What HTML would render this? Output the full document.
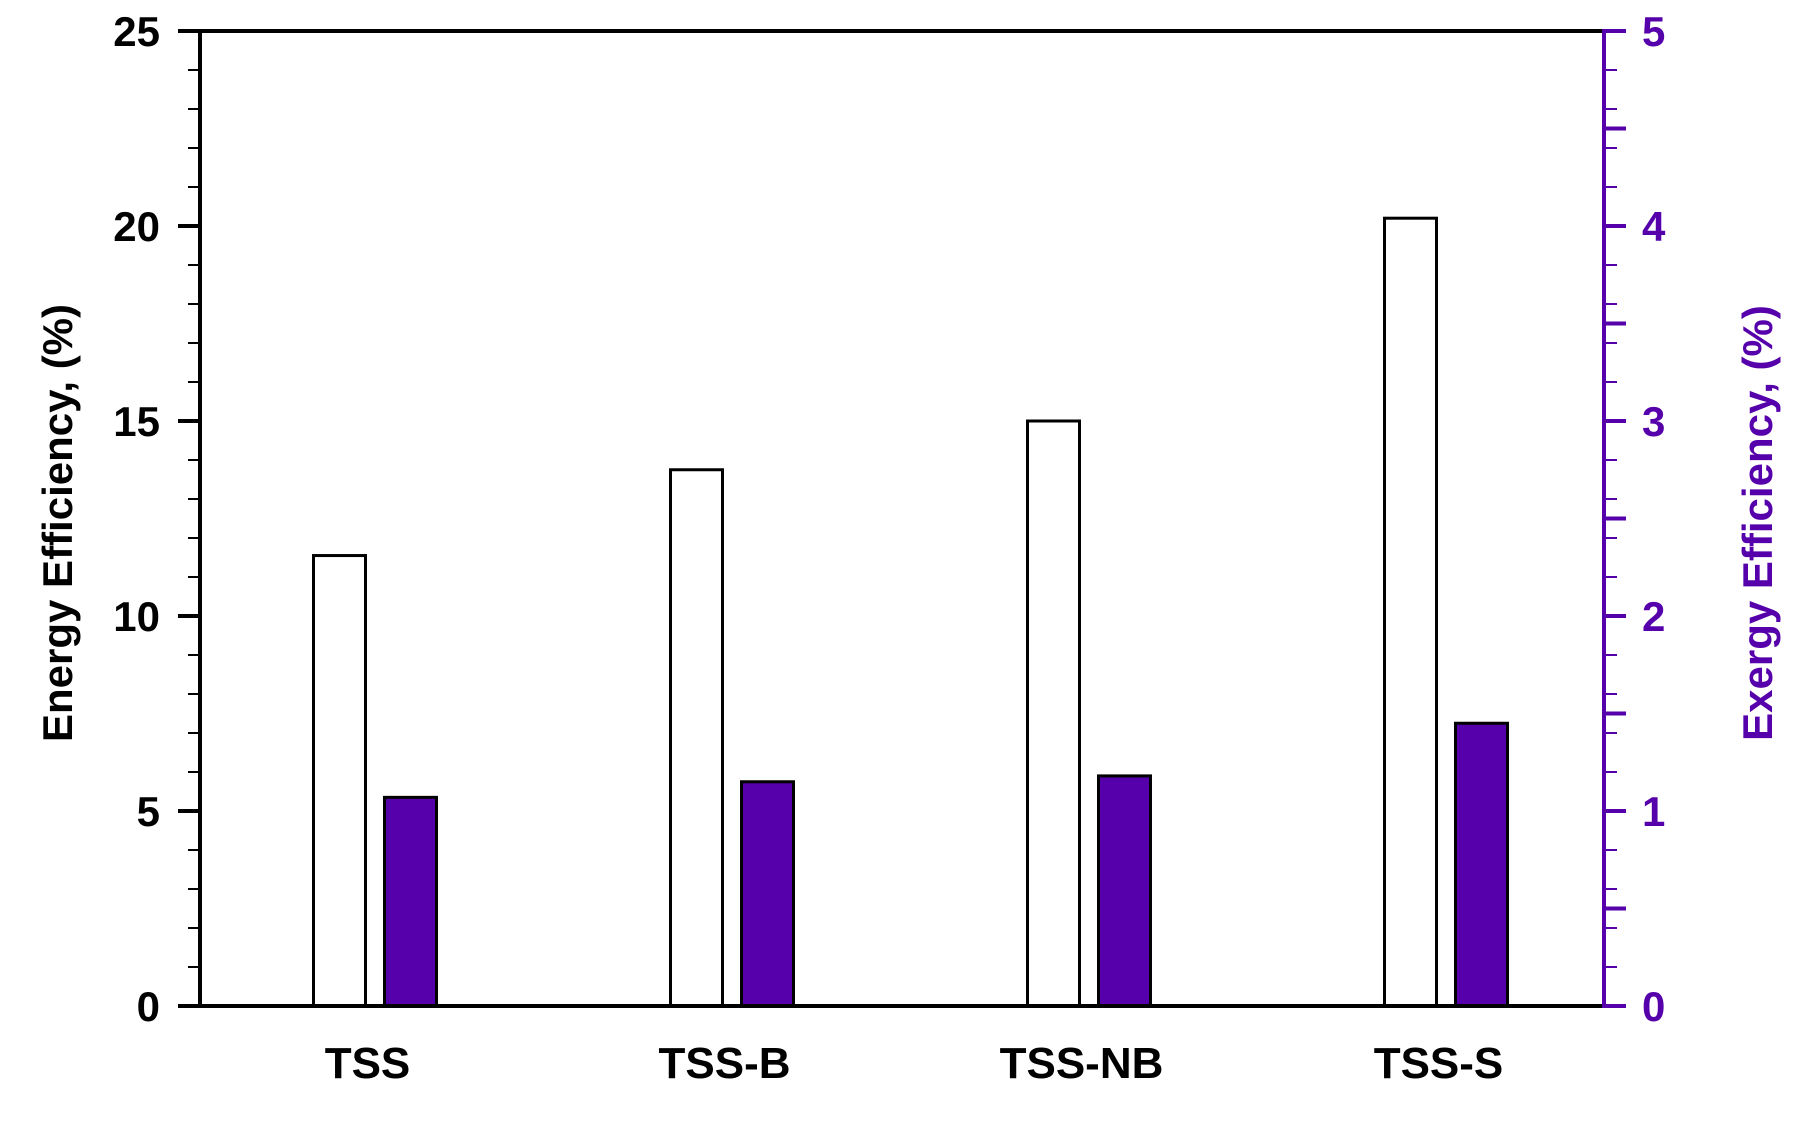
<!DOCTYPE html>
<html><head><meta charset="utf-8"><style>
body{margin:0;background:#fff}
svg text{font-family:"Liberation Sans",Arial,sans-serif;font-weight:bold}
</style></head><body>
<svg id="chart" width="1803" height="1118" viewBox="0 0 1803 1118" xmlns="http://www.w3.org/2000/svg"></svg>
<script>
const categories = ["TSS","TSS-B","TSS-NB","TSS-S"];
const energyValues = [11.55, 13.75, 15.0, 20.2];
const exergyValues = [1.07, 1.15, 1.18, 1.45];
const leftTicks = [0,5,10,15,20,25];
const rightTicks = [0,1,2,3,4,5];

const NS="http://www.w3.org/2000/svg";
const svg=document.getElementById('chart');
const L=200,R=1604,T=31,B=1006;
const PURPLE="#5500aa";
function yL(v){return B-(B-T)*v/25;}
function yR(v){return B-(B-T)*v/5;}
function xc(i){return 374.5+357*i;}
function mk(tag,attrs,name,text){const e=document.createElementNS(NS,tag);for(const k in attrs)e.setAttribute(k,attrs[k]);


if(text!==undefined)e.textContent=text;svg.appendChild(e);return e;}

// bars
categories.forEach((c,i)=>{
  const x=xc(i);
  const ye=yL(energyValues[i]);
  mk('rect',{x:x-61,y:ye,width:52,height:B-ye,fill:'#fff',stroke:'#000','stroke-width':3},'energy-bar-'+c.toLowerCase());
  const yx=yR(exergyValues[i]);
  mk('rect',{x:x+10,y:yx,width:52,height:B-yx,fill:PURPLE,stroke:'#000','stroke-width':3},'exergy-bar-'+c.toLowerCase());
  mk('text',{x:x-7,y:1078,'font-size':44,'text-anchor':'middle',fill:'#000'},'x-tick-label',c);
});

// left ticks
for(let v=0;v<=25;v+=1){
  const y=yL(v);const major=v%5===0;
  mk('line',{x1:major?178:188,x2:L,y1:y,y2:y,stroke:'#000','stroke-width':major?4:2},'left-tick');
}
leftTicks.forEach(v=>{mk('text',{x:160,y:yL(v)+15,'font-size':42,'text-anchor':'end',fill:'#000'},'left-tick-label',String(v));});
// right ticks
for(let k=0;k<=50;k++){
  if(k%1!==0)continue;
}
for(let k=0;k<=25;k++){
  const v=k*0.2;const y=yR(v);const major=k%5===0;
  mk('line',{x1:R,x2:major?1626:1617,y1:y,y2:y,stroke:PURPLE,'stroke-width':major?4:2},'right-tick');
}
for(let k=0;k<10;k++){const y=yR(k*0.5+0.5);if(k%2===0)mk('line',{x1:R,x2:1626,y1:y,y2:y,stroke:PURPLE,'stroke-width':4},'right-half-tick');}
rightTicks.forEach(v=>{mk('text',{x:1642,y:yR(v)+15,'font-size':42,'text-anchor':'start',fill:PURPLE},'right-tick-label',String(v));});

// axes
mk('line',{x1:L-2,x2:R,y1:T,y2:T,stroke:'#000','stroke-width':4},'top-axis');
mk('line',{x1:L-22,x2:R,y1:B,y2:B,stroke:'#000','stroke-width':4},'x-axis');
mk('line',{x1:L,x2:L,y1:T-2,y2:B+2,stroke:'#000','stroke-width':4},'left-axis');
mk('line',{x1:R,x2:R,y1:T-2,y2:B+2,stroke:PURPLE,'stroke-width':4},'right-axis');

mk('text',{x:0,y:0,'font-size':42,'text-anchor':'middle',fill:'#000',transform:'translate(72,523) rotate(-90)'},'left-axis-title','Energy Efficiency, (%)');
mk('text',{x:0,y:0,'font-size':42,'text-anchor':'middle',fill:PURPLE,transform:'translate(1772,523) rotate(-90)'},'right-axis-title','Exergy Efficiency, (%)');
</script>
</body></html>
